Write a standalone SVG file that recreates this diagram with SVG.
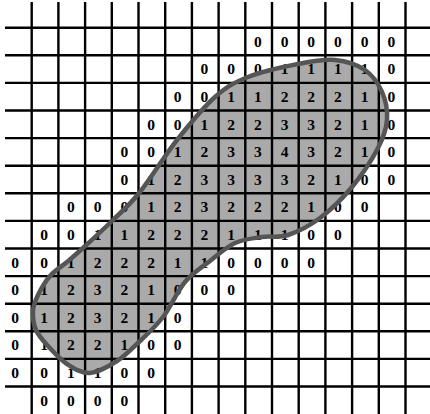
<svg xmlns="http://www.w3.org/2000/svg" width="430" height="414" viewBox="0 0 430 414">
<style>
.g{stroke:#000;stroke-width:2.4;fill:none}
.blob{fill:#aaaaaa;stroke:none}
.outline{fill:none;stroke:#555555;stroke-width:4.5;stroke-linejoin:round}
text{font-family:"Liberation Serif","Times New Roman",serif;font-weight:bold;font-size:15.5px;text-anchor:middle;fill:#000}
</style>
<rect width="430" height="414" fill="#fff"/>
<defs>
<path id="shape" d="M 33 311 C 33.3 305.2, 35.2 300.8, 38 295 C 40.8 289.2, 45.2 281.5, 50 276 C 54.8 270.5, 61.5 266.7, 67 262 C 72.5 257.3, 75.3 255, 83 248 C 90.7 241, 103.5 229.3, 113 220 C 122.5 210.7, 129.3 205.3, 140 192 C 150.7 178.7, 164.5 155.8, 177 140 C 189.5 124.2, 203.2 107.5, 215 97 C 226.8 86.5, 234.2 82.5, 248 77 C 261.8 71.5, 283.5 66.8, 298 64 C 312.5 61.2, 323.8 59, 335 60 C 346.2 61, 357.2 64.7, 365 70 C 372.8 75.3, 378.3 83.7, 382 92 C 385.7 100.3, 387.7 110.7, 387 120 C 386.3 129.3, 383.8 136.8, 378 148 C 372.2 159.2, 361.7 175.3, 352 187 C 342.3 198.7, 330.7 210, 320 218 C 309.3 226, 297.7 231.8, 288 235 C 278.3 238.2, 270.8 235.7, 262 237 C 253.2 238.3, 243.7 239, 235 243 C 226.3 247, 218.3 254.5, 210 261 C 201.7 267.5, 192.8 272.7, 185 282 C 177.2 291.3, 170.5 307.2, 163 317 C 155.5 326.8, 147.7 333.7, 140 341 C 132.3 348.3, 125.3 355.7, 117 361 C 108.7 366.3, 98.3 372.5, 90 373 C 81.7 373.5, 74 368.5, 67 364 C 60 359.5, 53.2 351.7, 48 346 C 42.8 340.3, 38.5 335.8, 36 330 C 33.5 324.2, 32.7 316.8, 33 311 Z"/>
</defs>
<g id="region-fill"><use href="#shape" class="blob"/></g>
<g id="grid" class="g">
<path d="M31.7 2V414M58.4 2V414M85.1 2V414M111.8 2V414M138.5 2V414M165.2 2V414M191.9 2V414M218.6 2V414M245.3 2V414M272 2V414M298.7 2V414M325.4 2V414M352.1 2V414M378.8 2V414M405.5 2V414"/>
<path d="M5 27.7H430M5 55.3H430M5 82.9H430M5 110.5H430M5 138.1H430M5 165.7H430M5 193.3H430M5 220.9H430M5 248.5H430M5 276.1H430M5 303.7H430M5 331.3H430M5 358.9H430M5 386.5H430"/>
</g>
<g id="values">
<g id="row1"><text x="257.8" y="46.8">0</text><text x="284.5" y="46.8">0</text><text x="311.2" y="46.8">0</text><text x="337.9" y="46.8">0</text><text x="364.6" y="46.8">0</text><text x="391.3" y="46.8">0</text></g>
<g id="row2"><text x="204.4" y="74.4">0</text><text x="231.1" y="74.4">0</text><text x="257.8" y="74.4">0</text><text x="284.5" y="74.4">1</text><text x="311.2" y="74.4">1</text><text x="337.9" y="74.4">1</text><text x="364.6" y="74.4">1</text><text x="391.3" y="74.4">0</text></g>
<g id="row3"><text x="177.7" y="102">0</text><text x="204.4" y="102">0</text><text x="231.1" y="102">1</text><text x="257.8" y="102">1</text><text x="284.5" y="102">2</text><text x="311.2" y="102">2</text><text x="337.9" y="102">2</text><text x="364.6" y="102">1</text><text x="391.3" y="102">0</text></g>
<g id="row4"><text x="151" y="129.6">0</text><text x="177.7" y="129.6">0</text><text x="204.4" y="129.6">1</text><text x="231.1" y="129.6">2</text><text x="257.8" y="129.6">2</text><text x="284.5" y="129.6">3</text><text x="311.2" y="129.6">3</text><text x="337.9" y="129.6">2</text><text x="364.6" y="129.6">1</text><text x="391.3" y="129.6">0</text></g>
<g id="row5"><text x="124.3" y="157.2">0</text><text x="151" y="157.2">0</text><text x="177.7" y="157.2">1</text><text x="204.4" y="157.2">2</text><text x="231.1" y="157.2">3</text><text x="257.8" y="157.2">3</text><text x="284.5" y="157.2">4</text><text x="311.2" y="157.2">3</text><text x="337.9" y="157.2">2</text><text x="364.6" y="157.2">1</text><text x="391.3" y="157.2">0</text></g>
<g id="row6"><text x="124.3" y="184.8">0</text><text x="151" y="184.8">1</text><text x="177.7" y="184.8">2</text><text x="204.4" y="184.8">3</text><text x="231.1" y="184.8">3</text><text x="257.8" y="184.8">3</text><text x="284.5" y="184.8">3</text><text x="311.2" y="184.8">2</text><text x="337.9" y="184.8">1</text><text x="364.6" y="184.8">0</text><text x="391.3" y="184.8">0</text></g>
<g id="row7"><text x="70.9" y="212.4">0</text><text x="97.6" y="212.4">0</text><text x="124.3" y="212.4">0</text><text x="151" y="212.4">1</text><text x="177.7" y="212.4">2</text><text x="204.4" y="212.4">3</text><text x="231.1" y="212.4">2</text><text x="257.8" y="212.4">2</text><text x="284.5" y="212.4">2</text><text x="311.2" y="212.4">1</text><text x="337.9" y="212.4">0</text><text x="364.6" y="212.4">0</text></g>
<g id="row8"><text x="44.2" y="240">0</text><text x="70.9" y="240">0</text><text x="97.6" y="240">1</text><text x="124.3" y="240">1</text><text x="151" y="240">2</text><text x="177.7" y="240">2</text><text x="204.4" y="240">2</text><text x="231.1" y="240">1</text><text x="257.8" y="240">1</text><text x="284.5" y="240">1</text><text x="311.2" y="240">0</text><text x="337.9" y="240">0</text></g>
<g id="row9"><text x="15" y="267.6">0</text><text x="44.2" y="267.6">0</text><text x="70.9" y="267.6">1</text><text x="97.6" y="267.6">2</text><text x="124.3" y="267.6">2</text><text x="151" y="267.6">2</text><text x="177.7" y="267.6">1</text><text x="204.4" y="267.6">1</text><text x="231.1" y="267.6">0</text><text x="257.8" y="267.6">0</text><text x="284.5" y="267.6">0</text><text x="311.2" y="267.6">0</text></g>
<g id="row10"><text x="15" y="295.2">0</text><text x="44.2" y="295.2">1</text><text x="70.9" y="295.2">2</text><text x="97.6" y="295.2">3</text><text x="124.3" y="295.2">2</text><text x="151" y="295.2">1</text><text x="177.7" y="295.2">0</text><text x="204.4" y="295.2">0</text><text x="231.1" y="295.2">0</text></g>
<g id="row11"><text x="15" y="322.8">0</text><text x="44.2" y="322.8">1</text><text x="70.9" y="322.8">2</text><text x="97.6" y="322.8">3</text><text x="124.3" y="322.8">2</text><text x="151" y="322.8">1</text><text x="177.7" y="322.8">0</text></g>
<g id="row12"><text x="15" y="350.4">0</text><text x="44.2" y="350.4">1</text><text x="70.9" y="350.4">2</text><text x="97.6" y="350.4">2</text><text x="124.3" y="350.4">1</text><text x="151" y="350.4">0</text><text x="177.7" y="350.4">0</text></g>
<g id="row13"><text x="15" y="378">0</text><text x="44.2" y="378">0</text><text x="70.9" y="378">1</text><text x="97.6" y="378">1</text><text x="124.3" y="378">0</text><text x="151" y="378">0</text></g>
<g id="row14"><text x="44.2" y="405.6">0</text><text x="70.9" y="405.6">0</text><text x="97.6" y="405.6">0</text><text x="124.3" y="405.6">0</text></g>
</g>
<g id="region-outline"><use href="#shape" class="outline"/></g>
</svg>
